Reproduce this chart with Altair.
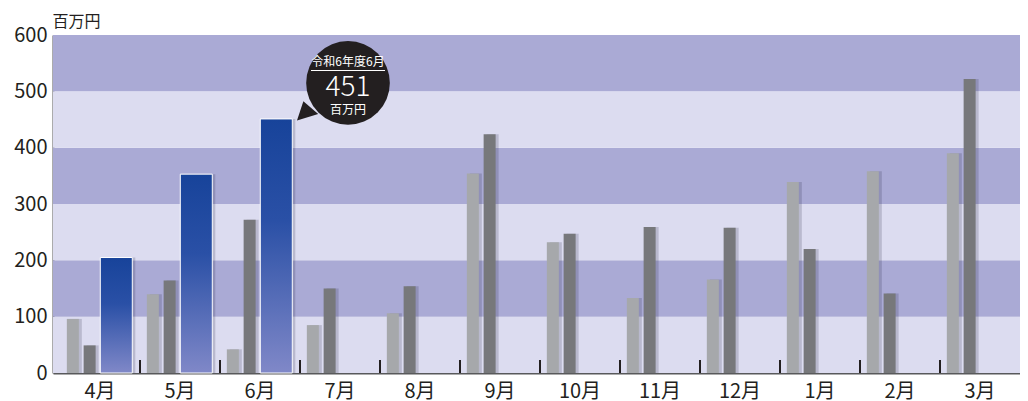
import altair as alt
import pandas as pd

# ---- data ----
months = ["4月", "5月", "6月", "7月", "8月", "9月", "10月", "11月", "12月", "1月", "2月", "3月"]
prior2 = [96, 140, 42, 85, 106, 354, 232, 133, 166, 339, 358, 390]      # light gray
prior1 = [49, 164, 272, 150, 154, 424, 247, 259, 258, 220, 141, 522]    # dark gray
current_months = ["4月", "5月", "6月"]
current = [205, 353, 451]                                               # blue
band_lo = [0, 100, 200, 300, 400, 500]
band_hi = [100, 200, 300, 400, 500, 600]
band_shade = ["light", "dark", "light", "dark", "light", "dark"]
y_ticks = [0, 100, 200, 300, 400, 500, 600]
unit_label = "百万円"
callout_month = "6月"
callout_value = 451
callout_title = "令和6年度6月"

FONT = "Noto Sans CJK JP"
W = 967
H = 338
STEP = (W - 7) / 12
K = STEP / 81.0

xscale = alt.Scale(domain=months, paddingInner=0, paddingOuter=7 / (2 * STEP), align=1)
yscale = alt.Scale(domain=[0, 600], nice=False, zero=True)

x_axis = alt.Axis(title=None, ticks=False, labelFontSize=20, labelPadding=8,
                  labelColor="#231f20", domainColor="#58595b", domainWidth=2,
                  labelAngle=0, grid=False)
y_axis = alt.Axis(values=y_ticks, title=unit_label, titleAngle=0, titleAlign="left",
                  titleX=-1, titleY=-14, titleBaseline="middle", titleFontSize=16,
                  titleFontWeight="normal", titleColor="#231f20",
                  labelFontSize=20, labelPadding=6, labelColor="#231f20",
                  ticks=False, grid=False, domainColor="#58595b", domainWidth=2)

bands_df = pd.DataFrame({"value": band_lo, "hi": band_hi, "shade": band_shade})
bands = alt.Chart(bands_df).mark_rect().encode(
    y=alt.Y("value:Q", scale=yscale, axis=y_axis),
    y2="hi:Q",
    x=alt.value(0),
    x2=alt.value(W),
    color=alt.Color("shade:N", scale=alt.Scale(domain=["dark", "light"],
                                               range=["#aaaad5", "#dcdcf0"]), legend=None),
)

gray_df = pd.DataFrame({"month": months, "p2": prior2, "p1": prior1})
cur_df = pd.DataFrame({"month": current_months, "value": current})

def xenc():
    return alt.X("month:N", scale=xscale, axis=x_axis, sort=months)

def bar_layer(df, field, width, offset, **style):
    return alt.Chart(df).mark_bar(width=width, xOffset=offset, **style).encode(
        x=xenc(),
        y=alt.Y(f"{field}:Q", scale=yscale, title=unit_label),
    )

shadow_style = dict(color="#1d1d3a", opacity=0.18)
sh_p2 = bar_layer(gray_df, "p2", 12, -27.5 * K + 3, **shadow_style)
sh_p1 = bar_layer(gray_df, "p1", 12, -10.5 * K + 3, **shadow_style)
sh_cur = bar_layer(cur_df, "value", 32, 16.5 * K + 3, **shadow_style)

bar_p2 = bar_layer(gray_df, "p2", 12, -27.5 * K, color="#a6a8ab")
bar_p1 = bar_layer(gray_df, "p1", 12, -10.5 * K, color="#77787b")

blue_grad = alt.LinearGradient(
    gradient="linear",
    stops=[alt.GradientStop(color="#17439a", offset=0),
           alt.GradientStop(color="#2a50a6", offset=0.4),
           alt.GradientStop(color="#8088c8", offset=1)],
    x1=1, x2=1, y1=0, y2=1,
)
bar_cur = bar_layer(cur_df, "value", 32, 16.5 * K, color=blue_grad,
                    stroke="white", strokeWidth=1)

tick_df = pd.DataFrame({"month": months[1:]})
tick_rules = alt.Chart(tick_df).mark_rule(color="#231f20", strokeWidth=2).encode(
    x=alt.X("month:N", scale=xscale, axis=x_axis, sort=months, bandPosition=0),
    y=alt.value(H),
    y2=alt.value(H - 13),
)

call_df = pd.DataFrame({"month": [callout_month], "value": [callout_value],
                        "title": [callout_title], "num": [str(callout_value)],
                        "unit": [unit_label]})
cbase = alt.Chart(call_df).encode(
    x=xenc(),
    y=alt.Y("value:Q", scale=yscale, title=unit_label),
)
cx = 88
circle = cbase.mark_circle(size=7000, color="#231f20", opacity=1, xOffset=cx, yOffset=-36)
tail = cbase.mark_point(shape="M0,0 L0.3,-0.9 L1,-0.3 Z", size=1800, filled=True,
                        color="#231f20", opacity=1, xOffset=37, yOffset=1.5)
t_title = cbase.mark_text(font=FONT, fontSize=12, color="white", dx=cx, dy=-57,
                          baseline="middle", align="center").encode(text="title:N")
underline = cbase.mark_tick(orient="horizontal", size=74, thickness=1, color="white",
                            opacity=1, xOffset=cx, yOffset=-48.5)
t_num = cbase.mark_text(font=FONT, fontSize=28, fontWeight=300, color="white", dx=cx,
                        dy=-31, baseline="middle", align="center").encode(text="num:N")
t_unit = cbase.mark_text(font=FONT, fontSize=12, color="white", dx=cx, dy=-8.5,
                         baseline="middle", align="center").encode(text="unit:N")

chart = alt.layer(
    bands, sh_p2, sh_p1, sh_cur, bar_p2, bar_p1, bar_cur, tick_rules,
    tail, circle, t_title, underline, t_num, t_unit,
).properties(
    width=W, height=H,
    padding={"left": 5, "top": 5, "right": 0, "bottom": 0},
).configure(
    font=FONT,
).configure_view(
    stroke=None,
)

chart.save("out.html", embed_options={"renderer": "svg", "actions": False})
